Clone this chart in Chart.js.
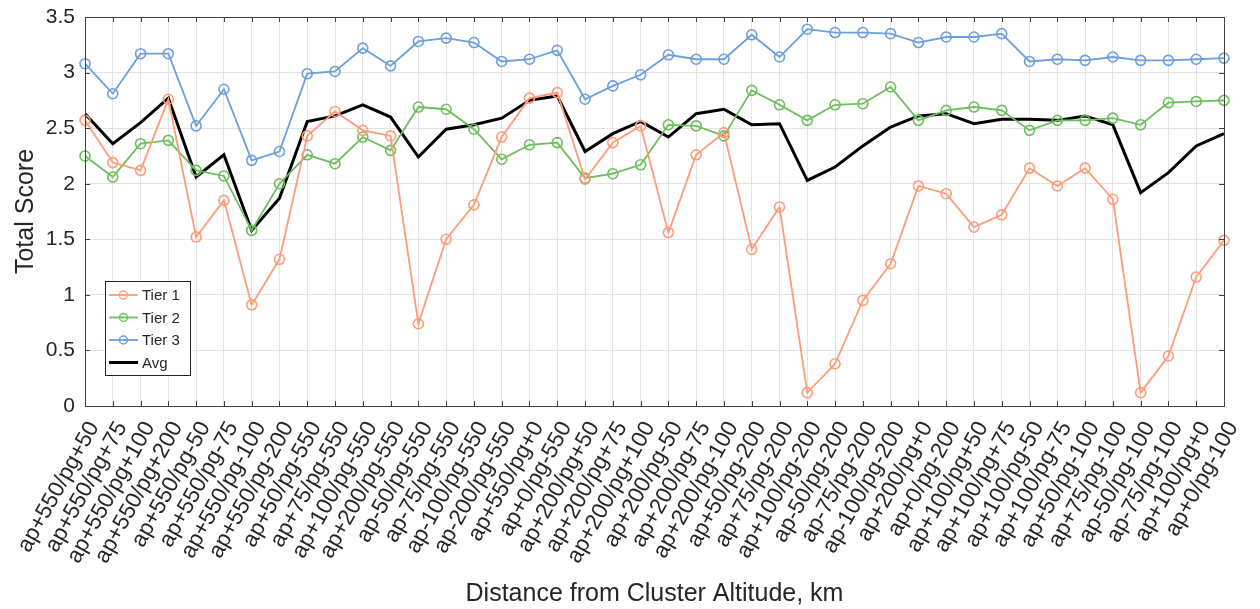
<!DOCTYPE html>
<html>
<head>
<meta charset="utf-8">
<script src="https://cdn.jsdelivr.net/npm/chart.js@4/dist/chart.umd.min.js"></script>
<style>
  html, body { margin: 0; padding: 0; background: #ffffff; }
  #wrap { width: 1260px; height: 609px; }
</style>
</head>
<body>
<div id="wrap"><canvas id="chart" width="1260" height="609"></canvas></div>
<script>
// Apogee / perigee offset combinations (km) relative to the cluster altitude
const categories = [
  'ap+550/pg+50', 'ap+550/pg+75', 'ap+550/pg+100', 'ap+550/pg+200',
  'ap+550/pg-50', 'ap+550/pg-75', 'ap+550/pg-100', 'ap+550/pg-200',
  'ap+50/pg-550', 'ap+75/pg-550', 'ap+100/pg-550', 'ap+200/pg-550',
  'ap-50/pg-550', 'ap-75/pg-550', 'ap-100/pg-550', 'ap-200/pg-550',
  'ap+550/pg+0', 'ap+0/pg-550', 'ap+200/pg+50', 'ap+200/pg+75',
  'ap+200/pg+100', 'ap+200/pg-50', 'ap+200/pg-75', 'ap+200/pg-100',
  'ap+50/pg-200', 'ap+75/pg-200', 'ap+100/pg-200', 'ap-50/pg-200',
  'ap-75/pg-200', 'ap-100/pg-200', 'ap+200/pg+0', 'ap+0/pg-200',
  'ap+100/pg+50', 'ap+100/pg+75', 'ap+100/pg-50', 'ap+100/pg-75',
  'ap+50/pg-100', 'ap+75/pg-100', 'ap-50/pg-100', 'ap-75/pg-100',
  'ap+100/pg+0', 'ap+0/pg-100'
];

const tier1 = [
  2.57, 2.19, 2.12, 2.76, 1.52, 1.85, 0.91, 1.32, 2.43, 2.65,
  2.48, 2.43, 0.74, 1.50, 1.81, 2.42, 2.77, 2.82, 2.04, 2.37,
  2.52, 1.56, 2.26, 2.46, 1.41, 1.79, 0.12, 0.38, 0.95, 1.28,
  1.98, 1.91, 1.61, 1.72, 2.14, 1.98, 2.14, 1.86, 0.12, 0.45,
  1.16, 1.49
];

const tier2 = [
  2.25, 2.06, 2.36, 2.39, 2.12, 2.07, 1.58, 2.00, 2.26, 2.18,
  2.42, 2.30, 2.69, 2.67, 2.49, 2.22, 2.35, 2.37, 2.05, 2.09,
  2.17, 2.53, 2.52, 2.43, 2.84, 2.71, 2.57, 2.71, 2.72, 2.87,
  2.57, 2.66, 2.69, 2.66, 2.48, 2.57, 2.57, 2.59, 2.53, 2.73,
  2.74, 2.75
];

const tier3 = [
  3.08, 2.81, 3.17, 3.17, 2.52, 2.85, 2.21, 2.29, 2.99, 3.01,
  3.22, 3.06, 3.28, 3.31, 3.27, 3.10, 3.12, 3.20, 2.76, 2.88,
  2.98, 3.16, 3.12, 3.12, 3.34, 3.14, 3.39, 3.36, 3.36, 3.35,
  3.27, 3.32, 3.32, 3.35, 3.10, 3.12, 3.11, 3.14, 3.11, 3.11,
  3.12, 3.13
];

const avgScore = [
  2.63, 2.36, 2.55, 2.77, 2.06, 2.26, 1.58, 1.87, 2.56, 2.61,
  2.71, 2.60, 2.24, 2.49, 2.53, 2.59, 2.75, 2.79, 2.29, 2.45,
  2.56, 2.42, 2.63, 2.67, 2.53, 2.54, 2.03, 2.15, 2.34, 2.51,
  2.61, 2.63, 2.54, 2.58, 2.58, 2.57, 2.61, 2.53, 1.92, 2.10,
  2.34, 2.45
];

const yTicks = [0, 0.5, 1, 1.5, 2, 2.5, 3, 3.5];

const TEXT = '#262626';
const FONT = "'Liberation Sans', Arial, Helvetica, sans-serif";

function tierSet(label, data, color) {
  return {
    label, data,
    borderColor: color,
    backgroundColor: color,
    borderWidth: 1.8,
    pointStyle: 'circle',
    pointRadius: 5,
    pointHoverRadius: 5,
    pointBorderWidth: 1.6,
    pointBorderColor: color,
    pointBackgroundColor: 'rgba(0,0,0,0)',
    tension: 0
  };
}

// Box frame, inward tick marks and the inset legend
const framePlugin = {
  id: 'framePlugin',
  afterDraw(chart) {
    const { ctx, chartArea: a, scales } = chart;
    const L = 5;
    ctx.save();
    ctx.strokeStyle = '#404040';
    ctx.lineWidth = 1;
    ctx.beginPath();
    scales.x.ticks.forEach((t, i) => {
      const x = Math.round(scales.x.getPixelForTick(i)) + 0.5;
      ctx.moveTo(x, a.bottom); ctx.lineTo(x, a.bottom - L);
      ctx.moveTo(x, a.top); ctx.lineTo(x, a.top + L);
    });
    scales.y.ticks.forEach((t, i) => {
      const y = Math.round(scales.y.getPixelForTick(i)) + 0.5;
      ctx.moveTo(a.left, y); ctx.lineTo(a.left + L, y);
      ctx.moveTo(a.right, y); ctx.lineTo(a.right - L, y);
    });
    ctx.stroke();
    ctx.strokeRect(Math.round(a.left) + 0.5, Math.round(a.top) + 0.5,
                   Math.round(a.right - a.left), Math.round(a.bottom - a.top));

    // legend box inside the plot area
    const bx = 105.5, by = 281.5, bw = 85, bh = 94;
    ctx.fillStyle = '#ffffff';
    ctx.fillRect(bx, by, bw, bh);
    ctx.strokeStyle = '#262626';
    ctx.strokeRect(bx, by, bw, bh);
    ctx.font = '15px ' + FONT;
    ctx.textBaseline = 'middle';
    ctx.textAlign = 'left';
    chart.data.datasets.forEach((ds, i) => {
      const y = 295 + i * 22.5;
      ctx.strokeStyle = ds.borderColor;
      ctx.lineWidth = ds.borderWidth;
      ctx.beginPath();
      ctx.moveTo(109, y); ctx.lineTo(138, y);
      ctx.stroke();
      if (ds.pointRadius > 0) {
        ctx.lineWidth = 1.4;
        ctx.beginPath();
        ctx.arc(123.5, y, 4, 0, Math.PI * 2);
        ctx.stroke();
      }
      ctx.fillStyle = TEXT;
      ctx.fillText(ds.label, 142, y + 1);
    });
    ctx.restore();
  }
};

new Chart(document.getElementById('chart'), {
  type: 'line',
  data: {
    labels: categories,
    datasets: [
      tierSet('Tier 1', tier1, '#FF9B78'),
      tierSet('Tier 2', tier2, '#6DBE5D'),
      tierSet('Tier 3', tier3, '#6C9FDC'),
      {
        label: 'Avg', data: avgScore,
        borderColor: '#000000', backgroundColor: '#000000',
        borderWidth: 3, pointRadius: 0, pointHoverRadius: 0, tension: 0
      }
    ]
  },
  options: {
    responsive: false,
    animation: false,
    devicePixelRatio: 1,
    layout: { padding: { top: 17, right: 36, bottom: 0, left: 0 } },
    plugins: { legend: { display: false }, tooltip: { enabled: false } },
    scales: {
      x: {
        offset: false,
        grid: { color: '#e3e3e3', lineWidth: 1, drawTicks: false },
        border: { display: false },
        ticks: {
          autoSkip: false, minRotation: 61, maxRotation: 61,
          padding: 11, labelOffset: 9, color: TEXT,
          font: { family: FONT, size: 22.5 }
        },
        title: {
          display: true, text: 'Distance from Cluster Altitude, km',
          color: TEXT, font: { family: FONT, size: 25 },
          padding: { top: 0, bottom: 0 }
        },
        afterFit(scale) {
          scale.height = 203;
          scale.paddingLeft = 0;
          scale.paddingRight = 0;
        }
      },
      y: {
        min: 0, max: 3.5,
        afterBuildTicks(scale) { scale.ticks = yTicks.map(v => ({ value: v })); },
        grid: { color: '#e3e3e3', lineWidth: 1, drawTicks: false },
        border: { display: false },
        ticks: {
          padding: 10, color: TEXT,
          font: { family: FONT, size: 21 },
          callback: v => String(v)
        },
        title: {
          display: true, text: 'Total Score',
          color: TEXT, font: { family: FONT, size: 25 },
          padding: { top: 11, bottom: 0 }
        },
        afterFit(scale) {
          scale.width = 85;
          scale.paddingTop = 0;
          scale.paddingBottom = 0;
        }
      }
    }
  },
  plugins: [framePlugin]
});
</script>
</body>
</html>
